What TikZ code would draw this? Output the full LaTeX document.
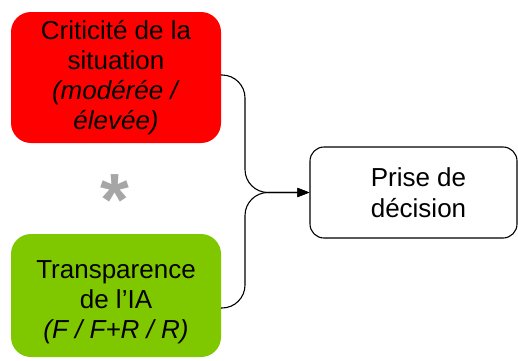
\documentclass[tikz,border=0pt]{standalone}
\usepackage{fontspec}
\setmainfont{Liberation Sans}
\usetikzlibrary{arrows.meta}
\definecolor{boxred}{HTML}{FF0000}
\definecolor{boxgreen}{HTML}{7FC800}
\definecolor{stargray}{HTML}{A6A6A6}
\tikzset{
  factor/.style={rounded corners=20pt, minimum width=210pt, align=center, inner sep=0pt,
    font=\fontsize{26}{30}\selectfont},
  outbox/.style={draw=black, line width=1.1pt, rounded corners=14pt, fill=white,
    minimum width=207pt, minimum height=91pt, align=center, inner sep=0pt,
    font=\fontsize{26}{30.5}\selectfont},
  link/.style={line width=1.1pt, rounded corners=23pt},
  tip/.style={-{Triangle[length=12pt,width=9pt]}},
}
\begin{document}
\begin{tikzpicture}[x=1pt,y=1pt]
\useasboundingbox (0,0) rectangle (518,360);
\node[factor, fill=boxred, minimum height=131pt] (crit) at (116,282.5)
  {Criticité de la\\situation\\\textit{(modérée /}\\\textit{élevée)}};
\node[factor, fill=boxgreen, minimum height=123pt] (transp) at (116,64.5)
  {\rule{0pt}{31pt}Transparence\\de l’IA\\\textit{(F / F+R / R)}};
\node[outbox] (dec) at (413.5,167.5) {\hspace*{10pt}Prise de\\\hspace*{10pt}décision};
\node[text=stargray, font=\bfseries\fontsize{74}{74}\selectfont, inner sep=0pt, anchor=base] (star) at (115,135) {*};
\coordinate (tstart) at ([yshift=-12.5pt]transp.east);
\coordinate (cstart) at ([yshift=2.5pt]crit.east);
\draw[link, tip] (cstart) -| (245,167.5) -- (dec.west);
\draw[link, tip] (tstart) -| (245,167.5) -- (dec.west);
\end{tikzpicture}
\end{document}
